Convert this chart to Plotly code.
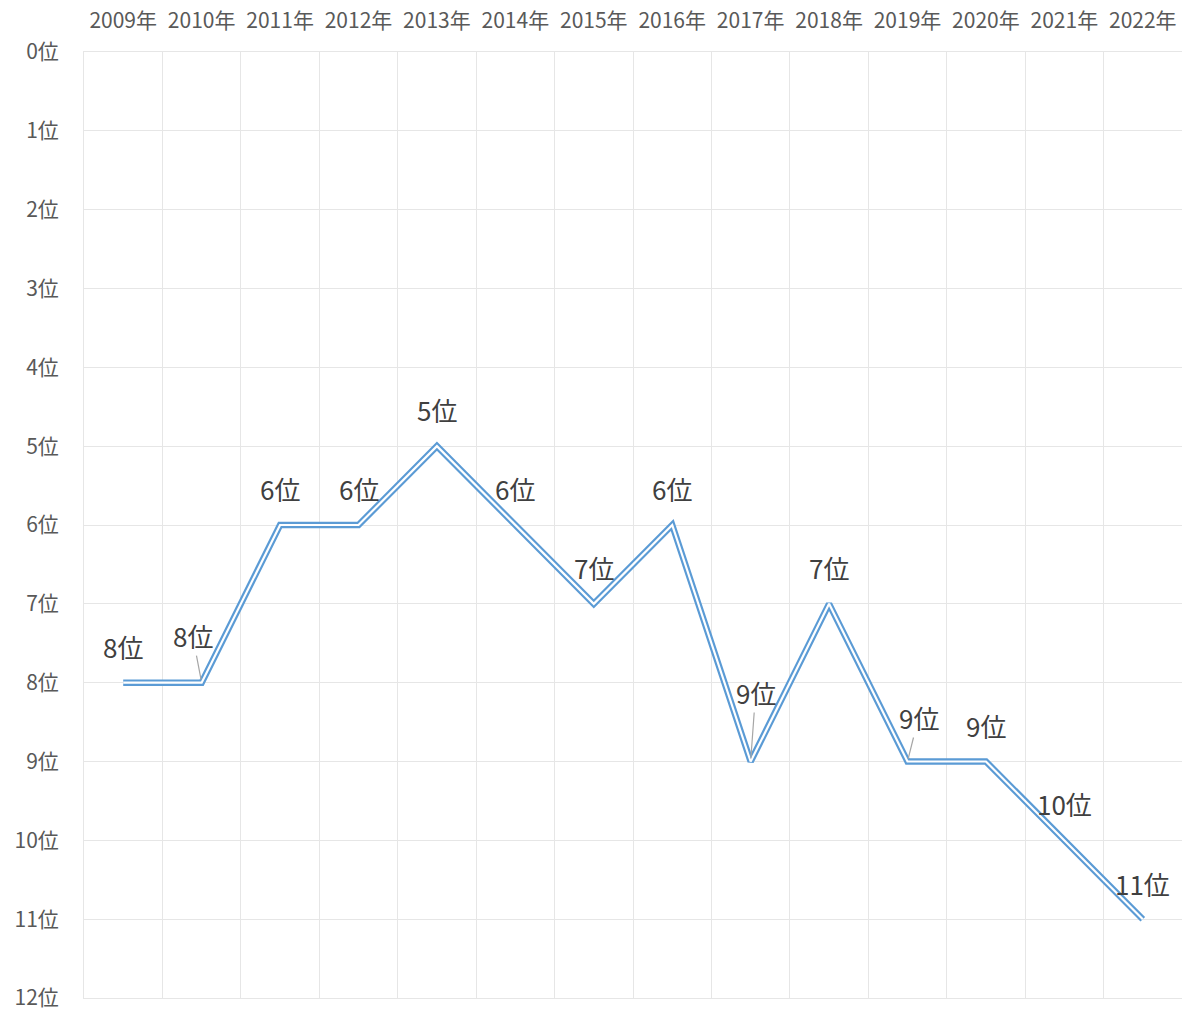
import plotly.graph_objects as go

# Yearly ranking (lower number = better rank)
years = ["2009年", "2010年", "2011年", "2012年", "2013年", "2014年", "2015年",
         "2016年", "2017年", "2018年", "2019年", "2020年", "2021年", "2022年"]
ranks = [8, 8, 6, 6, 5, 6, 7, 6, 9, 7, 9, 9, 10, 11]
rank_ticks = list(range(0, 13))
rank_tick_labels = [f"{r}位" for r in rank_ticks]

# Label offsets in pixels (dx, dy) and whether a leader line is drawn
label_offsets = [(0, -36), (-9, -47), (0, -37), (0, -37), (0, -37), (0, -37), (0, -36),
                 (0, -37), (5, -69), (0, -36), (11, -44), (0, -36), (0, -37), (0, -36)]
leader = [False, True, False, False, False, False, False,
          False, True, False, True, False, False, False]

FONT = "Noto Sans CJK JP"
BLUE = "#5b9bd5"
GRID = "#e6e6e6"

fig = go.Figure()
# Outer blue stroke
fig.add_trace(go.Scatter(x=years, y=ranks, mode="lines",
                         line=dict(color=BLUE, width=6.5), hoverinfo="skip"))
# Inner white stroke giving a double-line look
fig.add_trace(go.Scatter(x=years, y=ranks, mode="lines",
                         line=dict(color="white", width=2.2), hoverinfo="skip"))

for yr, r, (dx, dy), lead in zip(years, ranks, label_offsets, leader):
    if lead:
        fig.add_annotation(x=yr, y=r, text=f"{r}位", showarrow=True, arrowhead=0,
                           arrowwidth=1.2, arrowcolor="#a6a6a6", ax=dx, ay=dy,
                           standoff=3, font=dict(family=FONT, size=26, color="#404040"))
    else:
        fig.add_annotation(x=yr, y=r, text=f"{r}位", showarrow=False,
                           xshift=dx, yshift=-dy,
                           font=dict(family=FONT, size=26, color="#404040"))

fig.update_layout(
    width=1182, height=1012,
    margin=dict(l=84, r=0, t=52, b=14),
    paper_bgcolor="white", plot_bgcolor="white",
    showlegend=False,
    font=dict(family=FONT, color="#595959"),
)
fig.update_xaxes(type="category", side="top", tickson="boundaries",
                 showgrid=True, gridcolor=GRID, gridwidth=1,
                 showline=True, mirror=True, linecolor=GRID, linewidth=1,
                 ticks="", zeroline=False, ticklabelstandoff=15,
                 tickfont=dict(family=FONT, size=21, color="#595959"),
                 range=[-0.5, len(years) - 0.5])
fig.update_yaxes(range=[12, 0], tickvals=rank_ticks, ticktext=rank_tick_labels,
                 showgrid=True, gridcolor=GRID, gridwidth=1,
                 showline=True, linecolor=GRID, linewidth=1,
                 zeroline=False, ticks="", ticklabelstandoff=20,
                 tickfont=dict(family=FONT, size=21, color="#595959"))

fig.write_html("out.html")
